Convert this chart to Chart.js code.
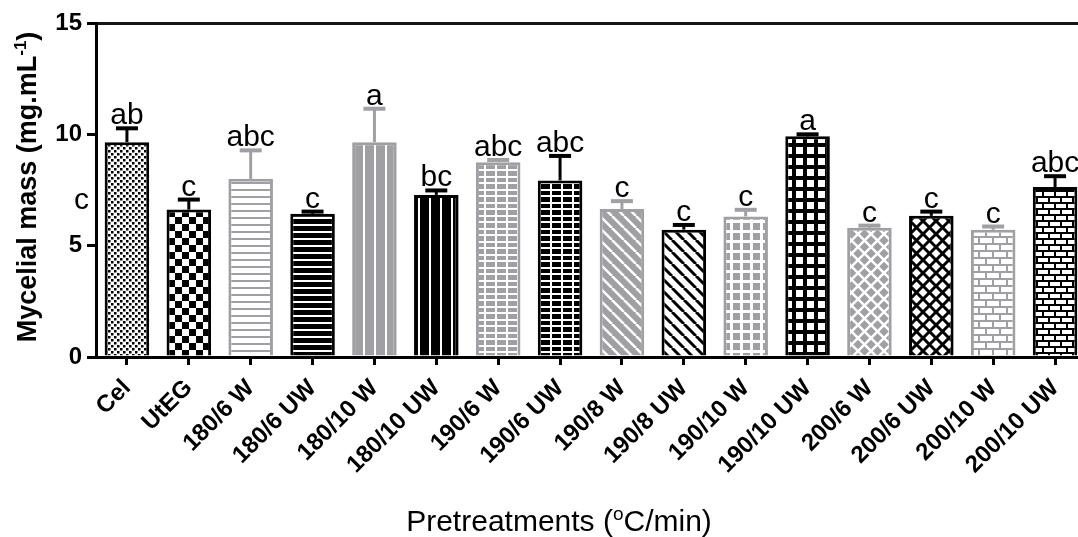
<!DOCTYPE html>
<html>
<head>
<meta charset="utf-8">
<script src="https://cdn.jsdelivr.net/npm/chart.js@4.4.1/dist/chart.umd.min.js"></script>
<style>
  html, body { margin: 0; padding: 0; background: #ffffff; overflow: hidden; }
  #wrap { width: 1120px; height: 537px; }
</style>
</head>
<body>
<div id="wrap"><canvas id="c" width="1120" height="537" style="width:1120px;height:537px"></canvas></div>
<script>
// ---- data ----
const categories = ['Cel', 'UtEG', '180/6 W', '180/6 UW', '180/10 W', '180/10 UW',
  '190/6 W', '190/6 UW', '190/8 W', '190/8 UW', '190/10 W', '190/10 UW',
  '200/6 W', '200/6 UW', '200/10 W', '200/10 UW'];
const meanMass = [9.65, 6.62, 8.00, 6.43, 9.65, 7.28, 8.75, 7.93, 6.65, 5.72, 6.31, 9.91, 5.80, 6.34, 5.71, 7.63];
const errMass  = [0.62, 0.45, 1.28, 0.10, 1.50, 0.20, 0.10, 1.10, 0.35, 0.21, 0.30, 0.09, 0.10, 0.19, 0.15, 0.49];
const groupLetters = ['ab', 'c', 'abc', 'c', 'a', 'bc', 'abc', 'abc', 'c', 'c', 'c', 'a', 'c', 'c', 'c', 'abc'];
const yTicks = [0, 5, 10, 15];
const sideLetter = 'c';
const sideLetterLevel = 6.65;

// ---- styling ----
const FONT = '"Liberation Sans", Arial, sans-serif';
const GRAY = '#a0a0a4', BLACK = '#000000', WHITE = '#ffffff';
const canvas = document.getElementById('c');
const ctx0 = canvas.getContext('2d');

function makeTile(w, h, paint) {
  const c = document.createElement('canvas');
  c.width = w; c.height = h;
  const g = c.getContext('2d');
  paint(g, w, h);
  return ctx0.createPattern(c, 'repeat');
}
function diagLines(g, s, dir, lw, color) {
  g.strokeStyle = color; g.lineWidth = lw; g.beginPath();
  for (const k of [-s, 0, s]) {
    if (dir > 0) { g.moveTo(k, 0); g.lineTo(k + s, s); }
    else { g.moveTo(k + s, 0); g.lineTo(k, s); }
  }
  g.stroke();
}
function bricks(bg, fg, W, H, m) {
  return makeTile(W, 2 * H, (g) => {
    g.fillStyle = bg; g.fillRect(0, 0, W, 2 * H);
    g.fillStyle = fg;
    g.fillRect(0, 0, W - m, H - m);
    g.fillRect(W / 2, H, W - m, H - m);
    g.fillRect(-W / 2, H, W - m, H - m);
  });
}

const fills = [
  // Cel: fine dotted checker
  makeTile(6, 6, (g) => { g.fillStyle = WHITE; g.fillRect(0, 0, 6, 6); g.fillStyle = BLACK; g.fillRect(0, 0, 2.5, 2.5); g.fillRect(3, 3, 2.5, 2.5); }),
  // UtEG: coarse checker
  makeTile(14, 14, (g) => { g.fillStyle = WHITE; g.fillRect(0, 0, 14, 14); g.fillStyle = BLACK; g.fillRect(0, 0, 7, 7); g.fillRect(7, 7, 7, 7); }),
  // horizontal lines
  makeTile(4, 7, (g) => { g.fillStyle = WHITE; g.fillRect(0, 0, 4, 7); g.fillStyle = GRAY; g.fillRect(0, 0, 4, 2); }),
  makeTile(4, 7, (g) => { g.fillStyle = BLACK; g.fillRect(0, 0, 4, 7); g.fillStyle = WHITE; g.fillRect(0, 0, 4, 2); }),
  // vertical lines
  makeTile(11, 4, (g) => { g.fillStyle = GRAY; g.fillRect(0, 0, 11, 4); g.fillStyle = WHITE; g.fillRect(0, 0, 2, 4); }),
  makeTile(11, 4, (g) => { g.fillStyle = BLACK; g.fillRect(0, 0, 11, 4); g.fillStyle = WHITE; g.fillRect(0, 0, 2, 4); }),
  // rectangular grid
  makeTile(11, 13, (g) => { g.fillStyle = GRAY; g.fillRect(0, 0, 11, 13); g.fillStyle = WHITE; g.fillRect(0, 0, 2, 13); g.fillRect(0, 0, 11, 2); g.fillRect(0, 7, 11, 2); }),
  makeTile(11, 13, (g) => { g.fillStyle = BLACK; g.fillRect(0, 0, 11, 13); g.fillStyle = WHITE; g.fillRect(0, 0, 2, 13); g.fillRect(0, 0, 11, 2); g.fillRect(0, 7, 11, 2); }),
  // diagonal stripes
  makeTile(12, 12, (g) => { g.fillStyle = GRAY; g.fillRect(0, 0, 12, 12); diagLines(g, 12, 1, 2.5, WHITE); }),
  makeTile(12, 12, (g) => { g.fillStyle = WHITE; g.fillRect(0, 0, 12, 12); diagLines(g, 12, 1, 3, BLACK); }),
  // square grid
  makeTile(10, 10, (g) => { g.fillStyle = GRAY; g.fillRect(0, 0, 10, 10); g.fillStyle = WHITE; g.fillRect(0, 0, 10, 3); g.fillRect(0, 0, 3, 10); }),
  makeTile(11, 11, (g) => { g.fillStyle = BLACK; g.fillRect(0, 0, 11, 11); g.fillStyle = WHITE; g.fillRect(4, 4, 7, 7); }),
  // diamond crosshatch
  makeTile(13, 13, (g) => { g.fillStyle = GRAY; g.fillRect(0, 0, 13, 13); diagLines(g, 13, 1, 2.5, WHITE); diagLines(g, 13, -1, 2.5, WHITE); }),
  makeTile(13, 13, (g) => { g.fillStyle = WHITE; g.fillRect(0, 0, 13, 13); diagLines(g, 13, 1, 3, BLACK); diagLines(g, 13, -1, 3, BLACK); }),
  // bricks
  bricks(GRAY, WHITE, 14, 7, 2),
  bricks(BLACK, WHITE, 12, 6, 2)
];
const inks = [BLACK, BLACK, GRAY, BLACK, GRAY, BLACK, GRAY, BLACK, GRAY, BLACK, GRAY, BLACK, GRAY, BLACK, GRAY, BLACK];

function drawRich(ctx, parts, cx, baseY) {
  let total = 0;
  parts.forEach(p => { ctx.font = p.font; p.w = ctx.measureText(p.t).width; total += p.w; });
  let x = cx - total / 2;
  ctx.textAlign = 'left';
  ctx.textBaseline = 'alphabetic';
  parts.forEach(p => { ctx.font = p.font; ctx.fillText(p.t, x, baseY + (p.dy || 0)); x += p.w; });
}

const decorations = {
  id: 'decorations',
  afterDatasetsDraw(chart) {
    const { ctx, scales: { y }, chartArea } = chart;
    const meta = chart.getDatasetMeta(0);
    ctx.save();
    meta.data.forEach((bar, i) => {
      const top = y.getPixelForValue(meanMass[i] + errMass[i]);
      ctx.strokeStyle = inks[i];
      ctx.lineCap = 'butt';
      ctx.lineWidth = 3;
      ctx.beginPath(); ctx.moveTo(bar.x, bar.y); ctx.lineTo(bar.x, top); ctx.stroke();
      ctx.lineWidth = 4;
      ctx.beginPath(); ctx.moveTo(bar.x - 11, top); ctx.lineTo(bar.x + 11, top); ctx.stroke();
      ctx.fillStyle = BLACK;
      ctx.font = '30px ' + FONT;
      ctx.textAlign = 'center';
      ctx.textBaseline = 'alphabetic';
      ctx.fillText(groupLetters[i], bar.x, top - 4);
    });
    ctx.textAlign = 'right';
    ctx.fillText(sideLetter, chartArea.left - 7, y.getPixelForValue(sideLetterLevel));

    // y axis title with superscript
    ctx.save();
    ctx.translate(36, (chartArea.top + chartArea.bottom) / 2 - 3);
    ctx.rotate(-Math.PI / 2);
    drawRich(ctx, [
      { t: 'Mycelial mass (mg.mL', font: 'bold 27px ' + FONT },
      { t: '-1', font: 'bold 17px ' + FONT, dy: -10 },
      { t: ')', font: 'bold 27px ' + FONT }
    ], 0, 0);
    ctx.restore();

    // x axis title
    drawRich(ctx, [
      { t: 'Pretreatments (', font: '30px ' + FONT },
      { t: 'o', font: '19px ' + FONT, dy: -11 },
      { t: 'C/min)', font: '30px ' + FONT }
    ], 559, 531);
    ctx.restore();
  }
};

new Chart(canvas, {
  type: 'bar',
  data: {
    labels: categories,
    datasets: [{
      data: meanMass,
      backgroundColor: fills,
      borderColor: inks,
      borderWidth: 3,
      barPercentage: 0.72,
      categoryPercentage: 1.0
    }]
  },
  options: {
    responsive: false,
    animation: false,
    devicePixelRatio: 1,
    layout: { padding: { top: 23, bottom: 30, left: 0, right: 34 } },
    plugins: { legend: { display: false }, tooltip: { enabled: false }, title: { display: false } },
    scales: {
      x: {
        afterFit(scale) { scale.height = 150; },
        border: { color: BLACK, width: 3 },
        grid: { offset: false, drawOnChartArea: false, tickLength: 8, tickWidth: 3, tickColor: BLACK },
        ticks: { color: BLACK, font: { family: FONT, size: 24, weight: 'bold' }, minRotation: 45, maxRotation: 45, autoSkip: false, padding: 9 }
      },
      y: {
        min: 0, max: 15,
        afterFit(scale) { scale.width = 96; },
        afterBuildTicks(scale) { scale.ticks = yTicks.map(v => ({ value: v })); },
        border: { color: BLACK, width: 3 },
        grid: {
          drawOnChartArea: true,
          color: (c) => (c.tick && c.tick.value === 15) ? '#151515' : 'rgba(0,0,0,0)',
          lineWidth: 3, tickLength: 9, tickWidth: 3, tickColor: BLACK
        },
        ticks: { color: BLACK, font: { family: FONT, size: 24, weight: 'bold' }, padding: 5 }
      }
    }
  },
  plugins: [decorations]
});
</script>
</body>
</html>
